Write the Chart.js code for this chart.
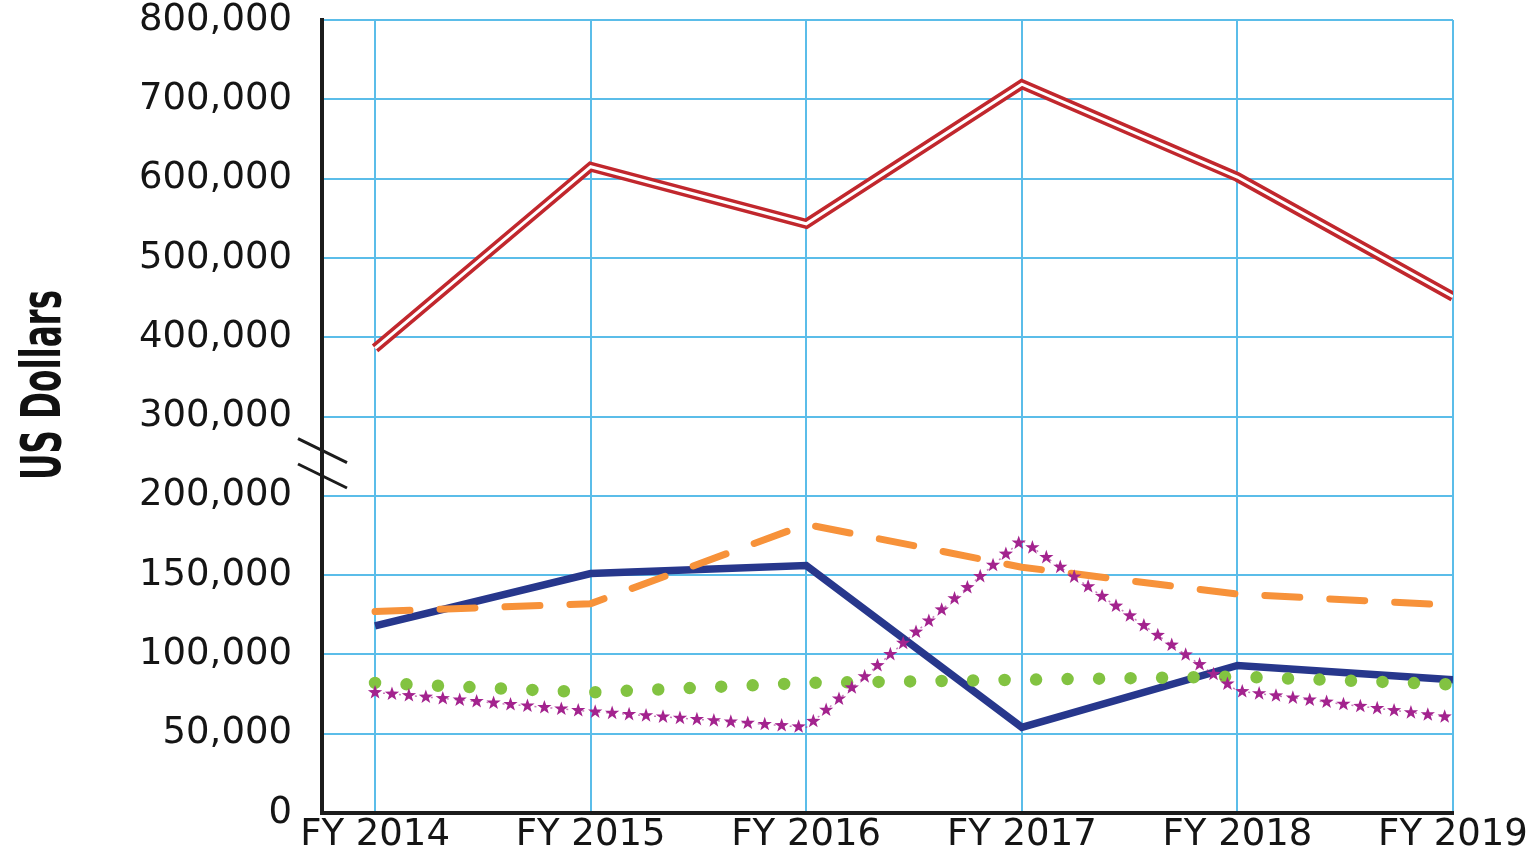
<!DOCTYPE html>
<html>
<head>
<meta charset="utf-8">
<script src="https://cdn.jsdelivr.net/npm/chart.js@4"></script>
<style>
    html, body { margin: 0; padding: 0; background: #fff; }
    #wrap { width: 1537px; height: 854px; position: relative; }
</style>
</head>
<body>
<div id="wrap"><canvas id="spendChart"></canvas></div>
<script>
// Chart data
const years = ['FY 2014', 'FY 2015', 'FY 2016', 'FY 2017', 'FY 2018', 'FY 2019'];
const yTickLabels = ['0', '50,000', '100,000', '150,000', '200,000', '300,000', '400,000', '500,000', '600,000', '700,000', '800,000'];

const redSeries = [386000, 615000, 543000, 719000, 602000, 451000];
const blueSeries = [118000, 151000, 156000, 54000, 93000, 84000];
const orangeSeries = [127000, 132000, 182000, 155000, 138000, 131000];
const greenSeries = [82000, 76000, 82000, 84000, 86000, 81000];
const purpleSeries = [76000, 64000, 54000, 172000, 77000, 60000];

// Colors
const gridBlue = '#5bbde9';
const axisBlack = '#1c1c1c';
const red = '#c1272d';
const navy = '#27378c';
const orange = '#f7923a';
const green = '#82c341';
const purple = '#a3238e';

// Broken axis: 0-200k at 50k per step, 300k-800k at 100k per step
const toAxis = (v) => v <= 200000 ? v / 50000 : 4 + (v - 200000) / 100000;
const toPoints = (arr) => arr.map((v, i) => ({ x: i, y: toAxis(v) }));

const tickFont = { family: "'DejaVu Sans', sans-serif", size: 37 };

function drawStar(ctx, cx, cy, outer, inner) {
    ctx.beginPath();
    for (let k = 0; k < 10; k++) {
        const r = k % 2 === 0 ? outer : inner;
        const a = -Math.PI / 2 + k * Math.PI / 5;
        const px = cx + r * Math.cos(a);
        const py = cy + r * Math.sin(a);
        if (k === 0) ctx.moveTo(px, py); else ctx.lineTo(px, py);
    }
    ctx.closePath();
    ctx.fill();
}

// Stars along the purple series
const starTrail = {
    id: 'starTrail',
    afterDatasetsDraw(chart) {
        const idx = chart.data.datasets.findIndex(d => d.label === 'purple');
        const pts = chart.getDatasetMeta(idx).data;
        const ctx = chart.ctx;
        const spacing = 17;
        ctx.save();
        ctx.fillStyle = purple;
        let carry = 0;
        for (let i = 0; i < pts.length - 1; i++) {
            const a = pts[i], b = pts[i + 1];
            const len = Math.hypot(b.x - a.x, b.y - a.y);
            let d = carry;
            while (d <= len) {
                const t = d / len;
                drawStar(ctx, a.x + (b.x - a.x) * t, a.y + (b.y - a.y) * t, 7.5, 3);
                d += spacing;
            }
            carry = d - len;
        }
        ctx.restore();
    }
};

// Axis break slashes + rotated y title
const axisExtras = {
    id: 'axisExtras',
    afterDraw(chart) {
        const ctx = chart.ctx;
        const y = chart.scales.y;
        const left = chart.chartArea.left;
        ctx.save();
        ctx.strokeStyle = axisBlack;
        ctx.lineWidth = 3;
        [4.57, 4.25].forEach(v => {
            const py = y.getPixelForValue(v);
            ctx.beginPath();
            ctx.moveTo(left - 24, py - 12);
            ctx.lineTo(left + 25, py + 12);
            ctx.stroke();
        });
        ctx.restore();

        // condensed bold title, squeezed to the reference length
        const title = 'US Dollars';
        ctx.save();
        ctx.font = "bold 56px 'Liberation Sans Narrow', 'DejaVu Sans Condensed', sans-serif";
        const squeeze = 190 / ctx.measureText(title).width;
        ctx.translate(45, 385);
        ctx.rotate(-Math.PI / 2);
        ctx.scale(squeeze, 1);
        ctx.fillStyle = '#111';
        ctx.textAlign = 'center';
        ctx.textBaseline = 'middle';
        ctx.fillText(title, 0, 0);
        ctx.restore();
    }
};

const ctx = document.getElementById('spendChart').getContext('2d');

new Chart(ctx, {
    type: 'line',
    data: {
        datasets: [
            {
                label: 'purple',
                data: toPoints(purpleSeries),
                borderColor: 'rgba(163, 35, 142, 0.6)',
                borderWidth: 1.5,
                borderDash: [2, 6],
                pointRadius: 0
            },
            {
                label: 'green',
                data: toPoints(greenSeries),
                borderColor: green,
                borderWidth: 12.5,
                borderDash: [0, 31.5],
                borderCapStyle: 'round',
                pointRadius: 0
            },
            {
                label: 'orange',
                data: toPoints(orangeSeries),
                borderColor: orange,
                borderWidth: 7,
                borderDash: [35, 30],
                borderCapStyle: 'round',
                pointRadius: 0
            },
            {
                label: 'blue',
                data: toPoints(blueSeries),
                borderColor: navy,
                borderWidth: 7.5,
                borderJoinStyle: 'miter',
                pointRadius: 0
            },
            {
                label: 'red-inner',
                data: toPoints(redSeries),
                borderColor: '#ffffff',
                borderWidth: 3,
                borderJoinStyle: 'miter',
                pointRadius: 0
            },
            {
                label: 'red',
                data: toPoints(redSeries),
                borderColor: red,
                borderWidth: 10,
                borderJoinStyle: 'miter',
                pointRadius: 0
            }
        ]
    },
    options: {
        responsive: true,
        maintainAspectRatio: false,
        animation: false,
        devicePixelRatio: 1,
        layout: { padding: { top: 20, right: 84, left: 0, bottom: 0 } },
        plugins: {
            legend: { display: false },
            tooltip: { enabled: false }
        },
        scales: {
            x: {
                type: 'linear',
                min: -0.246,
                max: 5,
                afterBuildTicks: (s) => { s.ticks = years.map((_, i) => ({ value: i })); },
                afterFit: (s) => {
                    s.height = 41;
                    s.paddingLeft = 0;
                    s.paddingRight = 0;
                },
                ticks: {
                    callback: (v) => years[v],
                    font: tickFont,
                    color: '#151515',
                    padding: 0,
                    maxRotation: 0,
                    autoSkip: false
                },
                grid: { color: gridBlue, lineWidth: 2, drawTicks: false },
                border: { color: axisBlack, width: 4 }
            },
            y: {
                min: 0,
                max: 10,
                afterBuildTicks: (s) => { s.ticks = yTickLabels.map((_, i) => ({ value: i })); },
                afterFit: (s) => {
                    s.width = 322;
                    s.paddingTop = 0;
                    s.paddingBottom = 0;
                },
                ticks: {
                    callback: (v) => yTickLabels[v],
                    font: tickFont,
                    color: '#151515',
                    padding: 30
                },
                grid: {
                    color: (c) => c.tick && c.tick.value === 0 ? 'rgba(0,0,0,0)' : gridBlue,
                    lineWidth: 2,
                    drawTicks: false
                },
                border: { color: axisBlack, width: 4 }
            }
        }
    },
    plugins: [starTrail, axisExtras]
});
</script>
</body>
</html>
